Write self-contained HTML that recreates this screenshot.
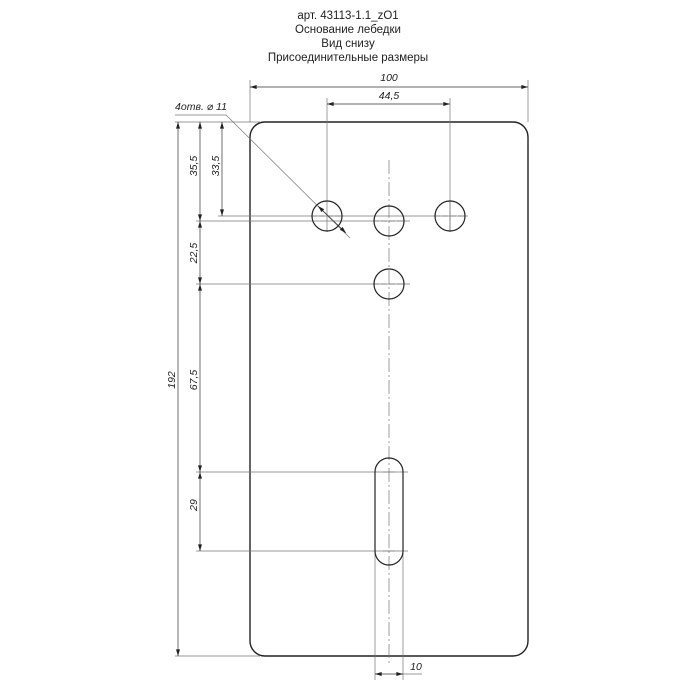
<!DOCTYPE html>
<html><head><meta charset="utf-8"><style>
html,body{margin:0;padding:0;background:#fff;}
svg{display:block}
.t{font-family:"Liberation Sans","DejaVu Sans",sans-serif;font-size:11.5px;fill:#222;text-anchor:middle}
.d{font-family:"Liberation Sans","DejaVu Sans",sans-serif;font-size:10.5px;font-style:italic;fill:#222;text-anchor:middle}
</style></head><body>
<svg width="700" height="700" viewBox="0 0 700 700" xmlns="http://www.w3.org/2000/svg">
<defs>
<marker id="a" viewBox="0 0 10 6" refX="10" refY="3" markerWidth="8" markerHeight="4" orient="auto-start-reverse" markerUnits="userSpaceOnUse"><path d="M0,0L10,3L0,6z" fill="#222"/></marker>
</defs>
<text class="t" x="348" y="19">арт. 43113-1.1_zO1</text>
<text class="t" x="348" y="33">Основание лебедки</text>
<text class="t" x="348" y="47">Вид снизу</text>
<text class="t" x="348" y="61">Присоединительные размеры</text>

<rect x="250" y="122" width="278" height="534" rx="15" fill="none" stroke="#222" stroke-width="1.4"/>

<g stroke="#777" stroke-width="0.7" fill="none">
<line x1="250" y1="80" x2="250" y2="122"/>
<line x1="528" y1="80" x2="528" y2="122"/>
<line x1="327" y1="98" x2="327" y2="232"/>
<line x1="450" y1="98" x2="450" y2="232"/>
<line x1="175" y1="122" x2="260" y2="122"/>
<line x1="175" y1="656" x2="260" y2="656"/>
<line x1="218" y1="216" x2="468" y2="216"/>
<line x1="196" y1="221" x2="410" y2="221"/>
<line x1="196" y1="284" x2="410" y2="284"/>
<line x1="196" y1="472" x2="408" y2="472"/>
<line x1="196" y1="551" x2="408" y2="551"/>
<line x1="375" y1="551" x2="375" y2="680"/>
<line x1="403" y1="551" x2="403" y2="680"/>
<line x1="403" y1="674" x2="422" y2="674"/>
<polyline points="175,115 226,115 350,238"/>
<line x1="389" y1="160" x2="389" y2="665" stroke-dasharray="14,3,2,3"/>
<line x1="311" y1="216" x2="343" y2="216" stroke-dasharray="6,2"/>
<line x1="434" y1="216" x2="466" y2="216" stroke-dasharray="6,2"/>
<line x1="450" y1="200" x2="450" y2="232"/>
<line x1="373" y1="221" x2="405" y2="221" stroke-dasharray="6,2"/>
<line x1="373" y1="284" x2="405" y2="284" stroke-dasharray="6,2"/>
<line x1="383" y1="472" x2="395" y2="472"/>
<line x1="383" y1="551" x2="395" y2="551"/>
</g>

<g stroke="#333" stroke-width="0.7" fill="none" marker-start="url(#a)" marker-end="url(#a)">
<line x1="250" y1="87" x2="528" y2="87"/>
<line x1="327" y1="104" x2="450" y2="104"/>
<line x1="178" y1="122" x2="178" y2="656"/>
<line x1="200" y1="122" x2="200" y2="221"/>
<line x1="222" y1="122" x2="222" y2="216"/>
<line x1="200" y1="221" x2="200" y2="284"/>
<line x1="200" y1="284" x2="200" y2="472"/>
<line x1="200" y1="472" x2="200" y2="551"/>
<line x1="375" y1="674" x2="403" y2="674"/>
<line x1="318" y1="206" x2="346" y2="233"/>
</g>

<g stroke="#222" stroke-width="1.2" fill="none">
<circle cx="327" cy="216" r="15"/>
<circle cx="389" cy="221" r="15"/>
<circle cx="450" cy="216" r="15"/>
<circle cx="389" cy="284" r="15"/>
<path d="M375,472 A14,14 0 0 1 403,472 L403,551 A14,14 0 0 1 375,551 Z"/>
</g>

<text class="d" x="389" y="81">100</text>
<text class="d" x="389" y="99">44,5</text>
<text class="d" x="201" y="110">4отв. ⌀ 11</text>
<text class="d" x="416" y="670">10</text>
<text class="d" transform="translate(175,380) rotate(-90)">192</text>
<text class="d" transform="translate(197,166) rotate(-90)">35,5</text>
<text class="d" transform="translate(219,166) rotate(-90)">33,5</text>
<text class="d" transform="translate(197,253) rotate(-90)">22,5</text>
<text class="d" transform="translate(197,380) rotate(-90)">67,5</text>
<text class="d" transform="translate(197,505) rotate(-90)">29</text>
</svg>
</body></html>
